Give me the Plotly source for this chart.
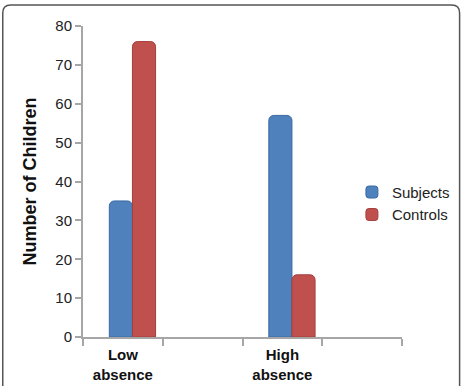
import plotly.graph_objects as go

categories = ["Low<br>absence", "gap1", "High<br>absence", "gap2"]
subjects = [35, None, 57, None]
controls = [76, None, 16, None]
series_names = ["Subjects", "Controls"]
tick_labels = ["<b>Low<br>absence</b>", "", "<b>High<br>absence</b>", ""]

fig = go.Figure()
fig.add_trace(go.Bar(x=categories, y=subjects, name=series_names[0],
                     width=0.29, offset=-0.17,
                     marker=dict(color="#4F81BD", line=dict(color="#3A6AA6", width=1), cornerradius=5)))
fig.add_trace(go.Bar(x=categories, y=controls, name=series_names[1],
                     width=0.29, offset=0.12,
                     marker=dict(color="#C0504D", line=dict(color="#A43F3C", width=1), cornerradius=5)))

fig.update_layout(
    width=467, height=386,
    margin=dict(l=83, r=60, t=26, b=49),
    paper_bgcolor="white", plot_bgcolor="white",
    barmode="overlay",
    font=dict(family="Liberation Sans, Arial, sans-serif", size=15, color="#222"),
    legend=dict(x=0.843, y=0.43, xanchor="left", yanchor="middle",
                font=dict(size=15, color="#222"), bgcolor="rgba(0,0,0,0)",
                itemwidth=30, tracegroupgap=2),
    showlegend=True,
)
fig.update_xaxes(
    type="category", categoryorder="array", categoryarray=categories,
    tickvals=categories, ticktext=tick_labels, automargin=False,
    tickson="boundaries", ticks="outside", ticklen=7, tickcolor="#A6A6A6", tickwidth=2,
    showline=True, linecolor="#A6A6A6", linewidth=2,
    showgrid=False, range=[-0.5, 3.5], ticklabelstandoff=3,
    tickfont=dict(size=15, color="#111"),
)
fig.update_yaxes(
    range=[0, 80], dtick=10, ticks="outside", ticklen=6, tickcolor="#A6A6A6", tickwidth=2,
    showline=True, linecolor="#A6A6A6", linewidth=2, showgrid=False, zeroline=False,
    tickfont=dict(size=15, color="#222"), automargin=False,
    title=dict(text="<b>Number of Children</b>", font=dict(size=18, color="#111"), standoff=14),
)

# outer rounded frame
W, H = 467, 386
l, r, t, b = 83, 60, 26, 49
pw, ph = W - l - r, H - t - b
def px(x): return (x - l) / pw
def py(y): return (H - b - y) / ph
x0, x1, y0, y1, rr = 1.5, 465.5, 5, 400, 8
path = (f"M {px(x0)} {py(y1)} L {px(x0)} {py(y0+rr)} Q {px(x0)} {py(y0)} {px(x0+rr)} {py(y0)} "
        f"L {px(x1-rr)} {py(y0)} Q {px(x1)} {py(y0)} {px(x1)} {py(y0+rr)} L {px(x1)} {py(y1)}")
fig.add_shape(type="path", path=path, xref="paper", yref="paper",
              line=dict(color="#555", width=1.5), layer="above")

fig.write_html("out.html")
